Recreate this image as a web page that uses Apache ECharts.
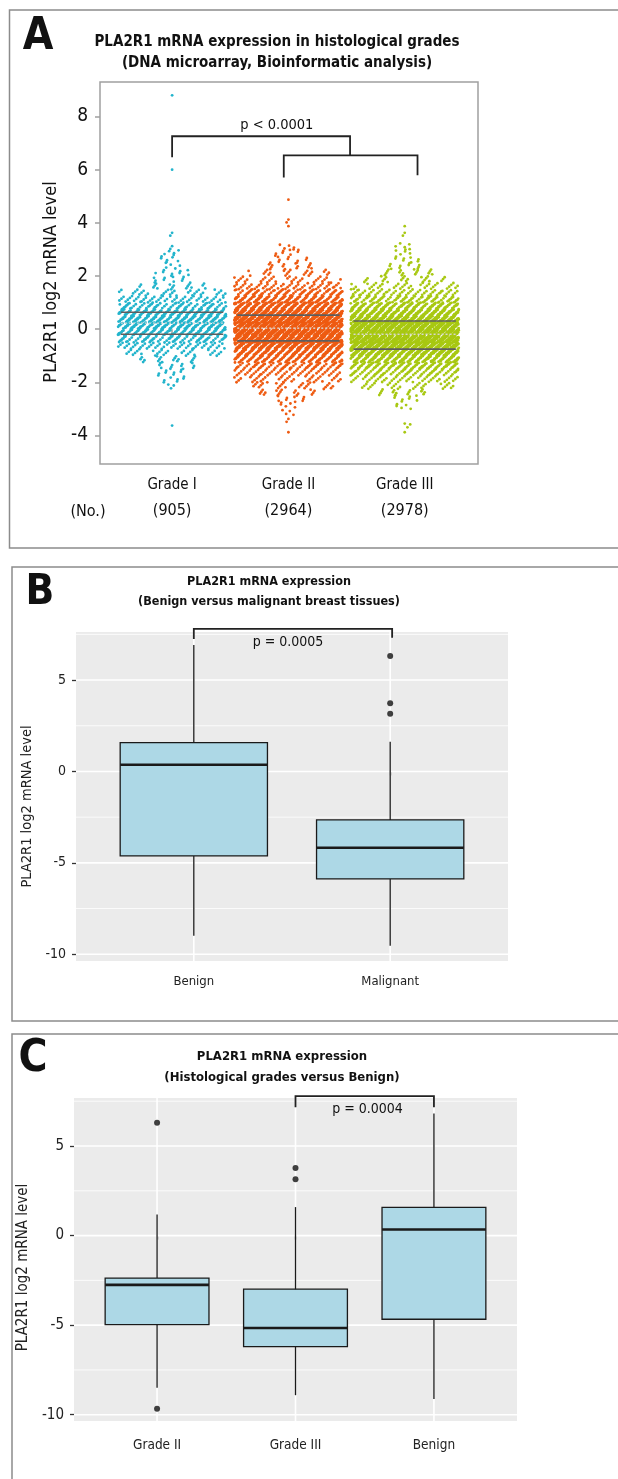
<!DOCTYPE html>
<html><head><meta charset="utf-8">
<script src="https://cdn.jsdelivr.net/npm/echarts@6/dist/echarts.min.js"></script>
<style>html,body{margin:0;padding:0;background:#fff}#c{width:618px;height:1479px}</style>
</head><body><div id="c"></div>
<script>
// ---------------- DATA ----------------
// Panel A: beeswarm of PLA2R1 log2 expression, counts per 0.25-wide bin (lower edge from -4.0)
const gradeNamesA = ['Grade I', 'Grade II', 'Grade III'];
const gradeCountsA = ['(905)', '(2964)', '(2978)'];
const binStartA = -4.0;
const binStepA = 0.25;
const binsGradeI   = [0,1,0,0,0,0,0,3,7,8,12,18,30,50,75,110,135,135,110,70,50,32,18,10,9,5,6,5,2,0,2,0,0,0,0,0];
const binsGradeII  = [1,0,2,4,5,9,18,25,35,50,75,115,170,245,315,355,355,335,280,205,135,85,50,32,22,14,10,8,5,0,0,1,2,0,0,1];
const binsGradeIII = [1,3,0,0,5,8,15,28,45,70,110,165,240,325,380,390,344,270,200,135,85,55,35,22,16,10,8,5,5,0,2,1,0,0,0,0];
const extraGradeI = [8.8, 6.0];
const q1A = [-0.19, -0.44, -0.75];
const medianA = [0.23, 0.04, -0.19];
const q3A = [0.64, 0.53, 0.31];
const yTicksA = [-4, -2, 0, 2, 4, 6, 8];
const bracketsA = [[1, 6.47, 2.53, 6.54, 7.26], [1.96, 5.71, 3.11, 5.79, 6.54]];
const pTextA = ['p < 0.0001'];
const pPosA = [[1.9, 7.68]];

// Panel B: boxplots [lowerWhisker, Q1, median, Q3, upperWhisker]
const categoriesB = ['Benign', 'Malignant'];
const boxB = [[-8.99, -4.62, 0.37, 1.58, 6.92], [-9.53, -5.88, -4.17, -2.65, 1.63]];
const outliersB = [[], [6.32, 3.73, 3.16]];
const yTicksB = [-10, -5, 0, 5];
const yMinorB = [-7.5, -2.5, 2.5, 7.5];
const bracketB = [[1, 7.25, 2.01, 7.32, 7.8]];
const pTextB = ['p = 0.0005'];
const pPosB = [[1.48, 7.08]];

// Panel C
const categoriesC = ['Grade II', 'Grade III', 'Benign'];
const boxC = [[-8.5, -4.97, -2.75, -2.37, 1.18], [-8.91, -6.2, -5.16, -2.99, 1.59], [-9.12, -4.67, 0.34, 1.57, 6.82]];
const outliersC = [[6.3, -9.66], [3.77, 3.14], []];
const yTicksC = [-10, -5, 0, 5];
const yMinorC = [-7.5, -2.5, 2.5, 7.5];
const bracketC = [[2, 7.17, 3, 7.17, 7.79]];
const pTextC = ['p = 0.0004'];
const pPosC = [[2.52, 7.06]];

// ---------------- HELPERS ----------------
const FONT = "'Liberation Sans Narrow','DejaVu Sans Condensed','Liberation Sans',sans-serif";
const colorsA = ['#22B4CC', '#EE5B12', '#A8C812'];

// deterministic beeswarm-like layout of the binned counts (low-discrepancy placement inside each bin)
function swarm(center, bins, extra, seed) {
  const pts = [];
  bins.forEach((n, b) => {
    const lo = binStartA + b * binStepA;
    const hw = Math.min(0.465, n * 0.016);
    const off = n > 2 ? (b * b * 7 + b * 131 + seed * 977) % 1009 : 0;
    const shiftU = n > 2 ? ((b * 0.3819660113 + seed * 0.1234) % 1) : 0;
    for (let i = 0; i < n; i++) {
      const k = i + off;
      const u = (0.5 + shiftU + k * 0.7548776662) % 1;
      const v = (0.5 + k * 0.5698402910) % 1;
      pts.push([center + (2 * u - 1) * hw, lo + v * binStepA]);
    }
  });
  (extra || []).forEach(y => pts.push([center, y]));
  return pts;
}

function bracketRender(params, api) {
  const a = api.coord([api.value(0), api.value(1)]);
  const b = api.coord([api.value(0), api.value(4)]);
  const c = api.coord([api.value(2), api.value(4)]);
  const d = api.coord([api.value(2), api.value(3)]);
  return {type: 'polyline', shape: {points: [a, b, c, d]}, style: {stroke: '#222', lineWidth: 1.8, fill: null}};
}
function textRenderer(texts, size) {
  return function (params, api) {
    const p = api.coord([api.value(0), api.value(1)]);
    return {type: 'text', x: p[0], y: p[1], style: {text: texts[params.dataIndex], fontSize: size, fontFamily: FONT, fill: '#111', align: 'center', verticalAlign: 'middle'}};
  };
}
function boxRender(params, api) {
  const x = api.value(0);
  const lo = api.value(1), q1 = api.value(2), med = api.value(3), q3 = api.value(4), hi = api.value(5);
  const h = 0.375;
  const pHi = api.coord([x, hi]), pLo = api.coord([x, lo]);
  const tl = api.coord([x - h, q3]), br = api.coord([x + h, q1]);
  const mL = api.coord([x - h, med]), mR = api.coord([x + h, med]);
  return {type: 'group', children: [
    {type: 'line', shape: {x1: pHi[0], y1: pHi[1], x2: pLo[0], y2: pLo[1]}, style: {stroke: '#1a1a1a', lineWidth: 1.3}},
    {type: 'rect', shape: {x: tl[0], y: tl[1], width: br[0] - tl[0], height: br[1] - tl[1]}, style: {fill: '#ADD8E6', stroke: '#1a1a1a', lineWidth: 1.3}},
    {type: 'line', shape: {x1: mL[0], y1: mL[1], x2: mR[0], y2: mR[1]}, style: {stroke: '#1a1a1a', lineWidth: 2.6}}
  ]};
}
function hLineRender(xmin, xmax, width) {
  return function (params, api) {
    const a = api.coord([xmin, api.value(1)]), b = api.coord([xmax, api.value(1)]);
    return {type: 'line', shape: {x1: a[0], y1: a[1], x2: b[0], y2: b[1]}, style: {stroke: '#fff', lineWidth: width}};
  };
}
function vLineRender(ymin, ymax, width) {
  return function (params, api) {
    const a = api.coord([api.value(0), ymin]), b = api.coord([api.value(0), ymax]);
    return {type: 'line', shape: {x1: a[0], y1: a[1], x2: b[0], y2: b[1]}, style: {stroke: '#fff', lineWidth: width}};
  };
}
function quartRender(params, api) {
  const x = api.value(0), h = 0.44;
  const out = [];
  [[api.value(1), 'q'], [api.value(3), 'q'], [api.value(2), 'm']].forEach(([y, t]) => {
    const a = api.coord([x - h, y]), b = api.coord([x + h, y]);
    out.push({type: 'line', shape: {x1: a[0], y1: a[1], x2: b[0], y2: b[1]},
      style: t === 'q' ? {stroke: '#5e5e5e', lineWidth: 1.6} : {stroke: '#d8d8d8', lineWidth: 1.4, lineDash: [2, 2]}});
  });
  return {type: 'group', children: out};
}

const xMinA = 0.38, xMaxA = 3.63, yMinA = -5.07, yMaxA = 9.3;
const xMinB = 0.4, xMaxB = 2.6, yMinB = -10.37, yMaxB = 7.63;
const xMinC = 0.4, xMaxC = 3.6, yMinC = -10.35, yMaxC = 7.68;
const posB = categoriesB.map((c, i) => i + 1);
const posC = categoriesC.map((c, i) => i + 1);
const posA = gradeNamesA.map((c, i) => i + 1);

const series = [];
// Panel A
[binsGradeI, binsGradeII, binsGradeIII].forEach((bins, i) => {
  series.push({type: 'scatter', xAxisIndex: 0, yAxisIndex: 0, symbol: 'circle', symbolSize: 2.8,
    itemStyle: {color: colorsA[i], opacity: 1}, data: swarm(posA[i], bins, i === 0 ? extraGradeI : [], i), z: 2, silent: true});
});
series.push({type: 'custom', xAxisIndex: 0, yAxisIndex: 0, renderItem: quartRender, z: 3,
  encode: {x: 0, y: [1, 2, 3]}, data: posA.map((x, i) => [x, q1A[i], medianA[i], q3A[i]])});
series.push({type: 'custom', xAxisIndex: 0, yAxisIndex: 0, renderItem: bracketRender, z: 4, clip: false,
  encode: {x: [0, 2], y: [1, 3, 4]}, data: bracketsA});
series.push({type: 'custom', xAxisIndex: 0, yAxisIndex: 0, renderItem: textRenderer(pTextA, 14.5), z: 4, clip: false,
  encode: {x: 0, y: 1}, data: pPosA});

// Panels B and C
function boxPanel(ax, cats, pos, boxes, outl, yMaj, yMin, xmin, xmax, ymin, ymax, brackets, pTxt, pPos, pSize) {
  series.push({type: 'custom', xAxisIndex: ax, yAxisIndex: ax, renderItem: hLineRender(xmin, xmax, 0.8), z: 1,
    encode: {x: 0, y: 1}, data: yMin.map(v => [1, v]), silent: true});
  series.push({type: 'custom', xAxisIndex: ax, yAxisIndex: ax, renderItem: hLineRender(xmin, xmax, 1.6), z: 1,
    encode: {x: 0, y: 1}, data: yMaj.map(v => [1, v]), silent: true});
  series.push({type: 'custom', xAxisIndex: ax, yAxisIndex: ax, renderItem: vLineRender(ymin, ymax, 1.6), z: 1,
    encode: {x: 0, y: 1}, data: pos.map(v => [v, 0]), silent: true});
  series.push({type: 'custom', xAxisIndex: ax, yAxisIndex: ax, renderItem: boxRender, z: 3,
    encode: {x: 0, y: [1, 2, 3, 4, 5]}, data: boxes.map((b, i) => [pos[i]].concat(b))});
  const od = [];
  outl.forEach((arr, i) => arr.forEach(v => od.push([pos[i], v])));
  series.push({type: 'scatter', xAxisIndex: ax, yAxisIndex: ax, symbol: 'circle', symbolSize: 6, z: 4,
    itemStyle: {color: '#111'}, data: od});
  series.push({type: 'custom', xAxisIndex: ax, yAxisIndex: ax, renderItem: bracketRender, z: 5, clip: false,
    encode: {x: [0, 2], y: [1, 3, 4]}, data: brackets});
  series.push({type: 'custom', xAxisIndex: ax, yAxisIndex: ax, renderItem: textRenderer(pTxt, pSize), z: 5, clip: false,
    encode: {x: 0, y: 1}, data: pPos});
}
boxPanel(1, categoriesB, posB, boxB, outliersB, yTicksB, yMinorB, xMinB, xMaxB, yMinB, yMaxB, bracketB, pTextB, pPosB, 14);
boxPanel(2, categoriesC, posC, boxC, outliersC, yTicksC, yMinorC, xMinC, xMaxC, yMinC, yMaxC, bracketC, pTextC, pPosC, 14);

const txt = (x, y, text, size, weight, align) => ({type: 'text', x: x, y: y, z: 10,
  style: {text: text, fontSize: size, fontWeight: weight || 'normal', fontFamily: FONT, fill: '#111', align: align || 'center', verticalAlign: 'middle'}});
const frame = (x, y, w, h) => ({type: 'rect', shape: {x: x, y: y, width: w, height: h}, z: 10,
  style: {fill: null, stroke: '#8c8c8c', lineWidth: 1.5}});

const option = {
  animation: false,
  backgroundColor: '#fff',
  grid: [
    {left: 100, top: 82, width: 378, height: 382, show: true, borderColor: '#a0a0a0', borderWidth: 1.5, backgroundColor: '#fff', containLabel: false},
    {left: 76, top: 632, width: 432, height: 329, show: true, borderWidth: 0, backgroundColor: '#EBEBEB', containLabel: false},
    {left: 74, top: 1098, width: 443, height: 323, show: true, borderWidth: 0, backgroundColor: '#EBEBEB', containLabel: false}
  ],
  xAxis: [
    {gridIndex: 0, type: 'value', min: xMinA, max: xMaxA, axisLine: {show: false}, splitLine: {show: false},
      axisTick: {show: true, customValues: posA, length: 6, lineStyle: {color: '#a0a0a0', width: 1.5}},
      axisLabel: {customValues: posA, margin: 10, fontFamily: FONT, color: '#111',
        formatter: v => '{n|' + gradeNamesA[Math.round(v) - 1] + '}\n{c|' + gradeCountsA[Math.round(v) - 1] + '}',
        rich: {n: {fontSize: 15, lineHeight: 22, fontFamily: FONT, color: '#111'}, c: {fontSize: 16, lineHeight: 30, fontFamily: FONT, color: '#111'}}}},
    {gridIndex: 1, type: 'value', min: xMinB, max: xMaxB, axisLine: {show: false}, splitLine: {show: false},
      axisTick: {show: true, customValues: posB, length: 4, lineStyle: {color: '#333', width: 1.3}},
      axisLabel: {customValues: posB, margin: 14, fontSize: 13, fontFamily: FONT, color: '#222',
        formatter: v => categoriesB[Math.round(v) - 1]}},
    {gridIndex: 2, type: 'value', min: xMinC, max: xMaxC, axisLine: {show: false}, splitLine: {show: false},
      axisTick: {show: true, customValues: posC, length: 4, lineStyle: {color: '#333', width: 1.3}},
      axisLabel: {customValues: posC, margin: 17, fontSize: 13.5, fontFamily: FONT, color: '#222',
        formatter: v => categoriesC[Math.round(v) - 1]}}
  ],
  yAxis: [
    {gridIndex: 0, type: 'value', min: yMinA, max: yMaxA, axisLine: {show: false}, splitLine: {show: false},
      axisTick: {show: true, customValues: yTicksA, length: 5, lineStyle: {color: '#a0a0a0', width: 1.5}},
      axisLabel: {customValues: yTicksA, margin: 12, fontSize: 19, fontFamily: FONT, color: '#111'},
      name: 'PLA2R1 log2 mRNA level', nameLocation: 'middle', nameGap: 35,
      nameTextStyle: {fontSize: 18, fontFamily: FONT, color: '#111', padding: [0, 18, 0, 0]}},
    {gridIndex: 1, type: 'value', min: yMinB, max: yMaxB, axisLine: {show: false}, splitLine: {show: false},
      axisTick: {show: true, customValues: yTicksB, length: 4, lineStyle: {color: '#333', width: 1.3}},
      axisLabel: {customValues: yTicksB, margin: 10, fontSize: 14, fontFamily: FONT, color: '#222'},
      name: 'PLA2R1 log2 mRNA level', nameLocation: 'middle', nameGap: 30,
      nameTextStyle: {fontSize: 14.5, fontFamily: FONT, color: '#222', padding: [0, 20, 0, 0]}},
    {gridIndex: 2, type: 'value', min: yMinC, max: yMaxC, axisLine: {show: false}, splitLine: {show: false},
      axisTick: {show: true, customValues: yTicksC, length: 4, lineStyle: {color: '#333', width: 1.3}},
      axisLabel: {customValues: yTicksC, margin: 10, fontSize: 15, fontFamily: FONT, color: '#222'},
      name: 'PLA2R1 log2 mRNA level', nameLocation: 'middle', nameGap: 26,
      nameTextStyle: {fontSize: 15, fontFamily: FONT, color: '#222', padding: [0, 16, 0, 0]}}
  ],
  graphic: [
    frame(9.5, 10, 700, 538), frame(12, 567, 700, 454), frame(12, 1034, 700, 600),
    txt(38, 38, 'A', 44, 'bold'), txt(40, 593, 'B', 42, 'bold'), txt(33, 1060, 'C', 44, 'bold'),
    txt(277, 42, 'PLA2R1 mRNA expression in histological grades', 15, 'bold'),
    txt(277, 63, '(DNA microarray, Bioinformatic analysis)', 15, 'bold'),
    txt(88, 512, '(No.)', 16),
    txt(269, 582, 'PLA2R1 mRNA expression', 12.5, 'bold'),
    txt(269, 602, '(Benign versus malignant breast tissues)', 12.5, 'bold'),
    txt(282, 1057, 'PLA2R1 mRNA expression', 13, 'bold'),
    txt(282, 1078, '(Histological grades versus Benign)', 13, 'bold')
  ],
  series: series
};
const chart = echarts.init(document.getElementById('c'));
chart.setOption(option);
</script></body></html>
